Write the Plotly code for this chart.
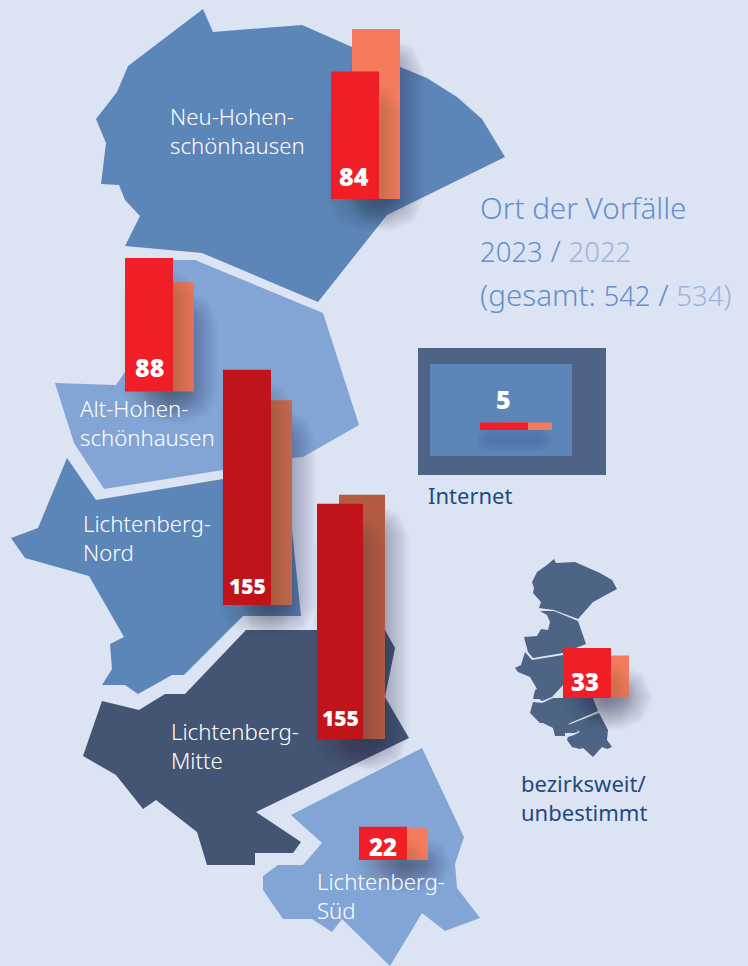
import plotly.graph_objects as go

# ---------- data ----------
places = ["Neu-Hohen-<br>schönhausen", "Alt-Hohen-<br>schönhausen", "Lichtenberg-<br>Nord",
          "Lichtenberg-<br>Mitte", "Lichtenberg-<br>Süd", "bezirksweit/<br>unbestimmt", "Internet"]
values_2023 = [84, 88, 155, 155, 22, 33, 5]
values_2022 = [112, 72, 135, 161, 21, 28, 5]

# ---------- layout of the marks (pixels on the page) ----------
W, H = 748, 966
PX_PER_CASE = 1.517
bar_left = [331, 125, 223, 317, 359, 563, 480]
bar_width = [48, 48, 48, 46, 48, 48, 48]
bar_offset = [21, 21, 21, 22, 21, 18, 24]
bar_floor = [199, 391.5, 605, 739, 860, 698, 430]
color_2023 = ["#f01e26", "#f01e26", "#c1131a", "#c1131a", "#f01e26", "#f01e26", "#f01e26"]
color_2022 = ["#f47b5b", "#ea7657", "#c96a4e", "#b35c42", "#f47b5b", "#f47b5b", "#f47b5b"]
value_xy = [(354, 176), (149, 367), (247, 586), (340, 718), (383, 846), (585, 681), (503, 399)]
value_size = [25, 25, 21, 21, 24, 24, 25]
label_xy = [(168, 131), (78, 423), (81, 538), (169, 746), (315, 896), (519, 797), (426, 495)]
label_color = ["white"] * 5 + ["#1f4a80"] * 2
label_size = [22.2] * 5 + [22] * 2
label_weight = [300] * 5 + [400] * 2

# ---------- map outlines ----------
NEU = [(203,9),(213,32),(302,25),(352,47),(400,67),(427,78),(457,97),(482,119),(505,157),(387,215),(318,302),
       (202,253),(125,246),(140,216),(125,200),(119,185),(101,184),(106,143),(96,119),(117,92),(128,66)]
ALT = [(125,260),(195,260),(323,313),(359,425),(303,457),(292,458),(223,470),(104,489),(74,443),(55,383),
       (116,385),(125,372)]
NORD = [(67,458),(96,500),(223,479),(292,470),(292,530),(301,616),(243,616),(184,675),(172,675),(138,694),
        (125,685),(102,685),(112,669),(110,644),(124,637),(89,576),(25,558),(11,538),(38,528)]
MITTE = [(246,630),(385,630),(395,648),(385,697),(409,738),(256,812),(301,842),(293,853),(255,853),(255,865),
         (207,865),(197,832),(156,800),(143,809),(116,775),(83,756),(102,701),(139,710),(165,694),(185,694)]
SUED = [(422,748),(464,837),(455,864),(457,888),(480,918),(445,931),(422,913),(390,966),(342,919),(332,932),
        (312,919),(283,919),(263,890),(263,876),(278,865),(303,865),(322,843),(291,815)]
MINI = [
    [(554,559),(556,563),(575,562),(600,573),(612,580),(617,589),(593,602),(578,619),(554,610),(539,608),(541,602),(535,596),(533,593),(534,588),(532,582),(537,572),(547,565)],
    [(540,611),(554,611),(578,621),(586,644),(563,653),(533,658),(528,652),(524,637),(537,636),(541,629),(548,630),(550,622),(547,615)],
    [(525,652),(532,660),(563,655),(563,685),(552,697),(542,701),(539,699),(533,699),(535,690),(537,689),(530,677),(518,672),(515,668),(521,665)],
    [(533,702),(542,703),(553,698),(563,698),(593,698),(598,711),(568,724),(575,727),(578,732),(574,733),(565,733),(565,736),(555,736),(553,728),(543,723),(540,723),(530,713)],
    [(599,713),(608,730),(607,740),(612,747),(607,749),(602,747),(593,757),(583,748),(580,749),(572,747),(567,740),(568,737),(574,735),(580,732),(568,725)],
]
NET_OUTER = [(418,348),(606,348),(606,475),(418,475)]
NET_INNER = [(430,364),(572,364),(572,456),(430,456)]

BG = "#dce3f2"


def area(points, color, opacity=1.0, yaxis="y"):
    xs = [p[0] for p in points] + [points[0][0]]
    ys = [p[1] for p in points] + [points[0][1]]
    return go.Scatter(x=xs, y=ys, mode="lines", fill="toself", fillcolor=color, opacity=opacity,
                      line=dict(width=0), hoverinfo="skip", showlegend=False, yaxis=yaxis)


def to_value(py):
    return (H - py) / PX_PER_CASE


def soft_shadow(x0, y0, x1, y1, inset=(12, 25, 8, 16), blur=16, peak=0.36, yaxis="y", steps=20):
    """Stack of shrinking rounded rectangles that fades out like a blurred shadow."""
    out = []
    alpha = 1 - (1 - peak) ** (1 / steps)
    x0, y0, x1, y1 = x0 + inset[0], y0 + inset[1], x1 + inset[2], y1 + inset[3]
    for k in range(steps):
        e = blur - 2 * blur * k / (steps - 1)
        ax0, ax1 = x0 - e, x1 + e
        ay0, ay1 = y0 - e, y1 + e
        if ax1 - ax0 < 4 or ay1 - ay0 < 4:
            continue
        r = min(max(e + blur, 2), (ax1 - ax0) / 2, (ay1 - ay0) / 2)
        pts = [(ax0 + r, ay0), (ax1 - r, ay0), (ax1 - .3 * r, ay0 + .3 * r), (ax1, ay0 + r), (ax1, ay1 - r),
               (ax1 - .3 * r, ay1 - .3 * r), (ax1 - r, ay1), (ax0 + r, ay1), (ax0 + .3 * r, ay1 - .3 * r),
               (ax0, ay1 - r), (ax0, ay0 + r), (ax0 + .3 * r, ay0 + .3 * r)]
        if yaxis != "y":
            pts = [(a, to_value(b)) for a, b in pts]
        out.append(area(pts, "#222c40", alpha, yaxis))
    return out


fig = go.Figure()

# bottom layer: the map
for poly, col in [(NEU, "#5c85b8"), (ALT, "#82a5d5"), (NORD, "#5c85b8"), (MITTE, "#435572"), (SUED, "#82a5d5")]:
    fig.add_trace(area(poly, col))
for poly in MINI:
    fig.add_trace(area(poly, "#4d6485"))
fig.add_trace(area(NET_OUTER, "#4e6385"))
fig.add_trace(area(NET_INNER, "#5c85b8"))

# shadows of the 2022 bars lie on the map
for i, v in enumerate(values_2022):
    left = bar_left[i] + bar_offset[i]
    top = bar_floor[i] - v * PX_PER_CASE
    if i == 6:
        fig.add_traces(soft_shadow(left - 30, top, left + bar_width[i], bar_floor[i],
                                   inset=(10, 12, -8, 14), blur=8, peak=0.16))
    else:
        fig.add_traces(soft_shadow(left, top, left + bar_width[i], bar_floor[i]))

# 2022 bars, behind
fig.add_trace(go.Bar(
    x=[bar_left[i] + bar_offset[i] + bar_width[i] / 2 for i in range(7)],
    y=values_2022, base=[to_value(f) for f in bar_floor], width=bar_width,
    marker=dict(color=color_2022, line=dict(width=0)), yaxis="y2", hoverinfo="skip", showlegend=False))

# shadows of the 2023 bars fall on the 2022 bars
for i, v in enumerate(values_2023):
    top = bar_floor[i] - v * PX_PER_CASE
    if i == 6:
        continue
    fig.add_traces(soft_shadow(bar_left[i], top, bar_left[i] + bar_width[i], bar_floor[i], yaxis="y2", peak=0.28))

# 2023 bars, in front
fig.add_trace(go.Bar(
    x=[bar_left[i] + bar_width[i] / 2 for i in range(7)],
    y=values_2023, base=[to_value(f) for f in bar_floor], width=bar_width,
    marker=dict(color=color_2023, line=dict(width=0)), yaxis="y3", hoverinfo="skip", showlegend=False))

# texts
notes = []
for (x, y), v, s in zip(value_xy, values_2023, value_size):
    notes.append(dict(x=x, y=y, text=str(v), xref="x", yref="y", showarrow=False,
                      font=dict(family="Open Sans", size=s, color="white", weight=800)))
for (x, y), t, c, s, w in zip(label_xy, places, label_color, label_size, label_weight):
    notes.append(dict(x=x, y=y, text=t, xref="x", yref="y", showarrow=False, align="left", xanchor="left",
                      font=dict(family="Noto Sans", size=s, color=c, weight=w)))
BLUE, PALE = "#6090cf", "#9ab6de"
digit = "font-size:27.5px"
for y, t in [(207, "Ort der Vorfälle"),
             (250, f'<span style="{digit}">2023</span> / <span style="color:{PALE};{digit}">2022</span>'),
             (294, f'(gesamt: <span style="{digit}">542</span> / <span style="color:{PALE};{digit}">534</span><span style="color:{PALE}">)</span>')]:
    notes.append(dict(x=478, y=y, text=t, xref="x", yref="y", showarrow=False, xanchor="left",
                      font=dict(family="Noto Sans", size=29.6, color=BLUE, weight=300)))

hidden = dict(visible=False, showgrid=False, zeroline=False, fixedrange=True)
fig.update_layout(
    width=W, height=H, margin=dict(l=0, r=0, t=0, b=0), autosize=False,
    paper_bgcolor=BG, plot_bgcolor=BG, barmode="overlay", showlegend=False, annotations=notes,
    xaxis=dict(range=[0, W], domain=[0, 1], **hidden),
    yaxis=dict(range=[H, 0], domain=[0, 1], **hidden),
    yaxis2=dict(range=[0, H / PX_PER_CASE], overlaying="y", **hidden),
    yaxis3=dict(range=[0, H / PX_PER_CASE], overlaying="y", **hidden),
)
fig.write_html("out.html", config=dict(displayModeBar=False),
               post_script=f"document.body.style.margin='0';document.body.style.background='{BG}';"
                           "document.documentElement.style.overflow='hidden';")
